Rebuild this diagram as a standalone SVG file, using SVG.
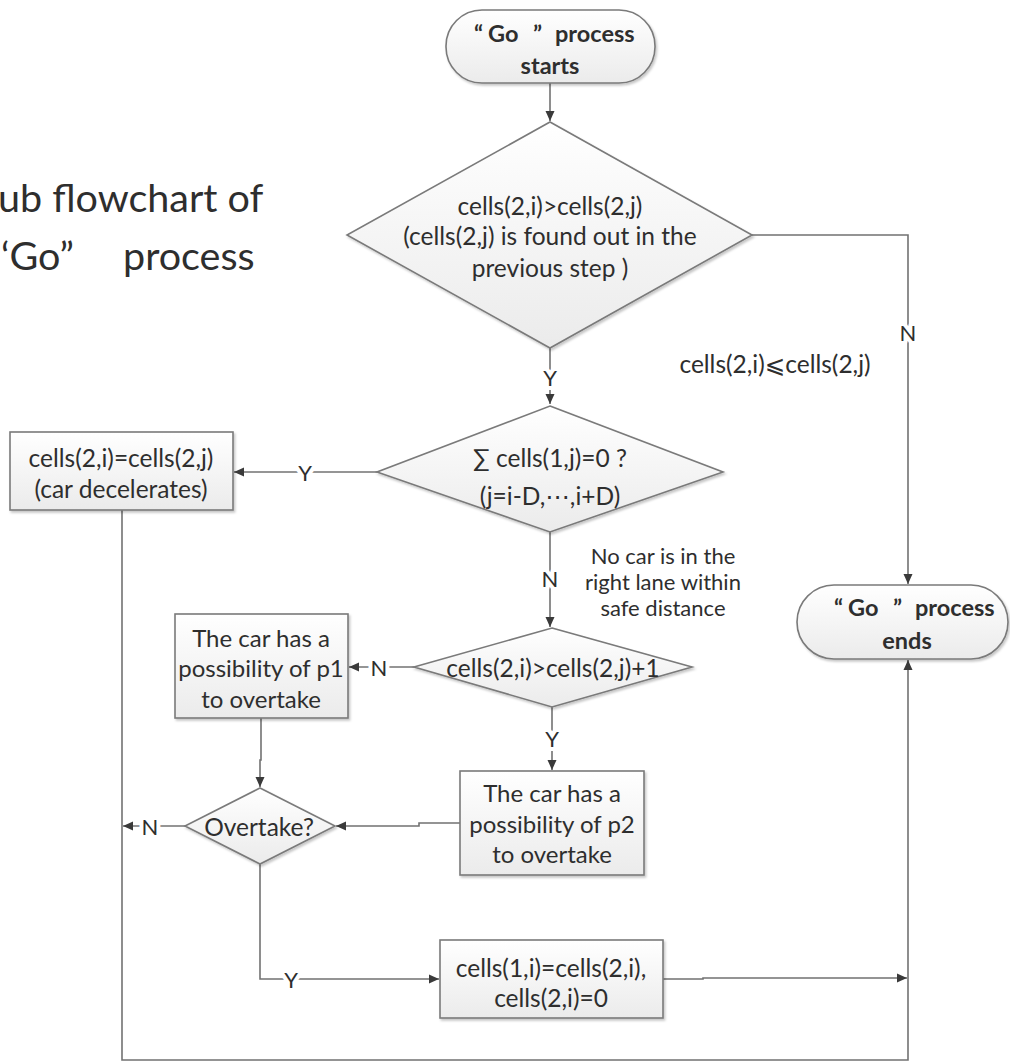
<svg xmlns="http://www.w3.org/2000/svg" width="1010" height="1062" viewBox="0 0 1010 1062">
<style>
text{font-family:Lato,"Noto Sans","Liberation Sans","DejaVu Sans",sans-serif;fill:#2e2e2e;}
.t{font-size:24.5px;text-anchor:middle;dominant-baseline:central;}
.s{font-size:24px;}
.side{font-size:22px;}
.b{font-weight:bold;font-size:23.5px;}
.st{text-anchor:start;}
.title{font-size:39.5px;}
.lbl{font-size:22px;text-anchor:middle;dominant-baseline:central;stroke:#fff;stroke-width:8px;paint-order:stroke;stroke-linejoin:round;}
.shape{fill:url(#g);stroke:#7a7a7a;stroke-width:1.6;filter:url(#sh);}
.con{fill:none;stroke:#727272;stroke-width:1.6;}
.arr{marker-end:url(#ah);}
</style>
<defs>
<linearGradient id="g" x1="0" y1="0" x2="0" y2="1">
<stop offset="0" stop-color="#ffffff"/>
<stop offset="1" stop-color="#ebebeb"/>
</linearGradient>
<filter id="sh" x="-10%" y="-10%" width="130%" height="130%">
<feDropShadow dx="1.5" dy="2" stdDeviation="1" flood-color="#000" flood-opacity="0.22"/>
</filter>
<marker id="ah" markerWidth="11" markerHeight="11" refX="10" refY="5.5" orient="auto" markerUnits="userSpaceOnUse">
<path d="M0,1 L10,5.5 L0,10 z" fill="#3a3a3a"/>
</marker>
</defs>
<rect width="1010" height="1062" fill="#fff"/>

<g id="title">
<text class="title" x="-2" y="212">ub flowchart of</text>
<text class="title" y="270"><tspan x="1">‘Go”</tspan><tspan x="123">process</tspan></text>
</g>

<g id="connectors">
<path class="con arr" d="M550,83 V121"/>
<path class="con arr" d="M752,235 H908 V584"/>
<path class="con arr" d="M550,348 V404"/>
<path class="con arr" d="M377,472 H234"/>
<path class="con arr" d="M122,510 V1060 H908 V660"/>
<path class="con arr" d="M550,532 V627"/>
<path class="con arr" d="M414,667 H349"/>
<path class="con arr" d="M261,718 V760 H260 V787"/>
<path class="con arr" d="M552,707 V770"/>
<path class="con arr" d="M460,823 H419 V826 H336"/>
<path class="con arr" d="M185,826 H123"/>
<path class="con arr" d="M260,864 V979 H439"/>
<path class="con arr" d="M663,979 H703 V978 H907"/>
<text class="lbl" x="908" y="332">N</text>
<text class="lbl" x="550" y="377">Y</text>
<text class="lbl" x="305" y="472">Y</text>
<text class="lbl" x="550" y="578">N</text>
<text class="lbl" x="379" y="667">N</text>
<text class="lbl" x="552" y="738">Y</text>
<text class="lbl" x="150" y="826">N</text>
<text class="lbl" x="291" y="979">Y</text>
<text class="t" x="775" y="363">cells(2,i)⩽cells(2,j)</text>
<text class="t side" x="663" y="555">No car is in the</text>
<text class="t side" x="663" y="581">right lane within</text>
<text class="t side" x="663" y="607">safe distance</text>
</g>

<g id="start">
<rect class="shape" x="446" y="10" width="209" height="73" rx="36" ry="36"/>
<text class="t b st" y="33"><tspan x="474">“</tspan><tspan x="488">Go</tspan><tspan x="533">”</tspan><tspan x="555">process</tspan></text>
<text class="t b" x="550" y="65">starts</text>
</g>

<g id="d1">
<polygon class="shape" points="550,122 752,235 550,348 347,235"/>
<text class="t" x="550" y="205">cells(2,i)&gt;cells(2,j)</text>
<text class="t" x="550" y="235">(cells(2,j) is found out in the</text>
<text class="t" x="550" y="267">previous step )</text>
</g>

<g id="d2">
<polygon class="shape" points="550,406 723,472 550,532 377,472"/>
<text class="t" x="550" y="457">∑ cells(1,j)=0 ?</text>
<text class="t" x="550" y="495">(j=i-D,⋯,i+D)</text>
</g>

<g id="box1">
<rect class="shape" x="10" y="432" width="223" height="78"/>
<text class="t" x="121" y="457">cells(2,i)=cells(2,j)</text>
<text class="t" x="121" y="488">(car decelerates)</text>
</g>

<g id="d3">
<polygon class="shape" points="552,628 692,667 552,707 414,667"/>
<text class="t" x="553" y="667">cells(2,i)&gt;cells(2,j)+1</text>
</g>

<g id="p1">
<rect class="shape" x="175" y="614" width="173" height="104"/>
<text class="t s" x="261" y="637">The car has a</text>
<text class="t s" x="261" y="667">possibility of p1</text>
<text class="t s" x="261" y="698">to overtake</text>
</g>

<g id="p2">
<rect class="shape" x="460" y="771" width="184" height="104"/>
<text class="t s" x="552" y="792">The car has a</text>
<text class="t s" x="552" y="823">possibility of p2</text>
<text class="t s" x="552" y="853">to overtake</text>
</g>

<g id="overtake">
<polygon class="shape" points="260,788 335,826 260,864 185,826"/>
<text class="t" x="259" y="826">Overtake?</text>
</g>

<g id="move">
<rect class="shape" x="440" y="940" width="223" height="78"/>
<text class="t" x="551" y="967">cells(1,i)=cells(2,i),</text>
<text class="t" x="551" y="997">cells(2,i)=0</text>
</g>

<g id="end">
<rect class="shape" x="797" y="585" width="211" height="74" rx="37" ry="37"/>
<text class="t b st" y="607"><tspan x="834">“</tspan><tspan x="848">Go</tspan><tspan x="893">”</tspan><tspan x="915">process</tspan></text>
<text class="t b" x="907" y="640">ends</text>
</g>
</svg>
